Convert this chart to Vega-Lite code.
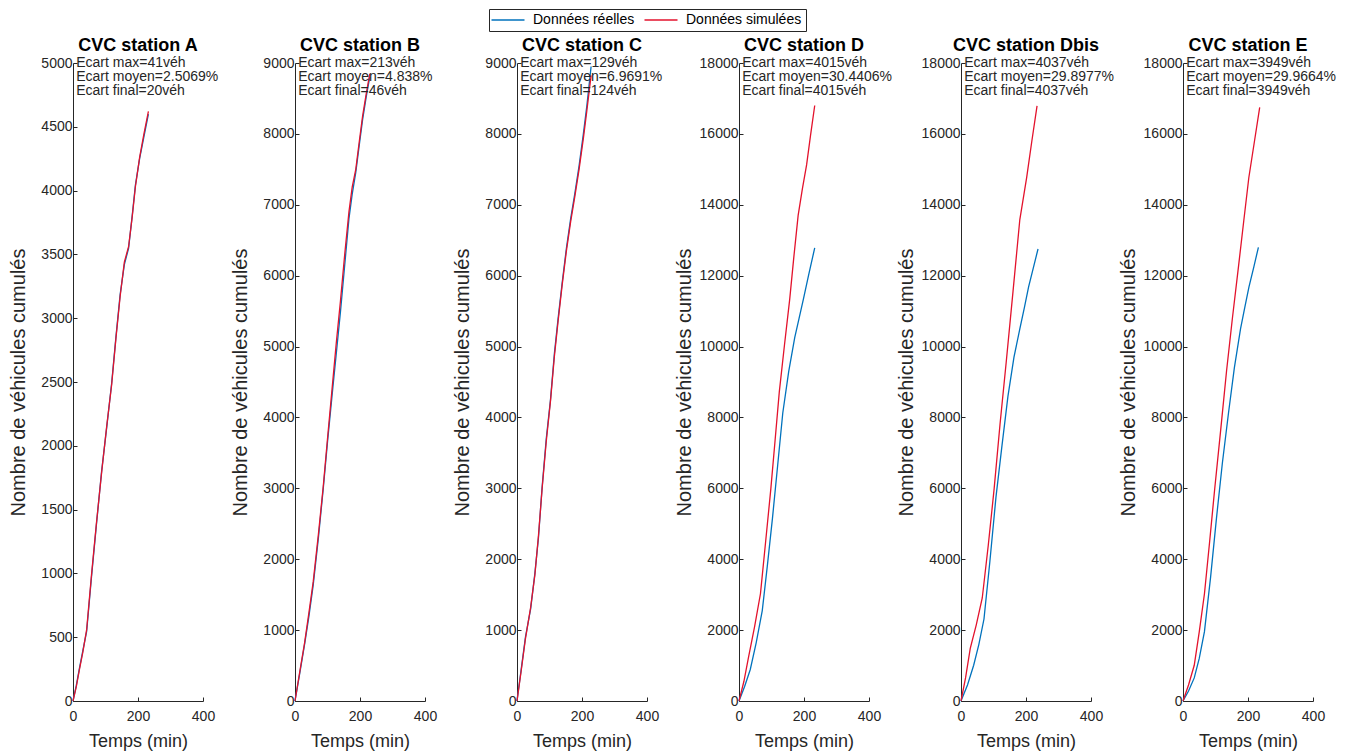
{
  "$schema": "https://vega.github.io/schema/vega-lite/v6.json",
  "padding": {"left": 8, "top": 8, "right": 5, "bottom": 5},
  "background": "white",
  "datasets": {
    "curves": [
      {"station": "A", "serie": "Données réelles", "t": 0, "n": 0},
      {"station": "A", "serie": "Données réelles", "t": 10, "n": 120},
      {"station": "A", "serie": "Données réelles", "t": 20, "n": 260},
      {"station": "A", "serie": "Données réelles", "t": 30, "n": 390},
      {"station": "A", "serie": "Données réelles", "t": 42, "n": 545},
      {"station": "A", "serie": "Données réelles", "t": 57, "n": 974},
      {"station": "A", "serie": "Données réelles", "t": 72, "n": 1380},
      {"station": "A", "serie": "Données réelles", "t": 88, "n": 1800},
      {"station": "A", "serie": "Données réelles", "t": 104, "n": 2150},
      {"station": "A", "serie": "Données réelles", "t": 119, "n": 2492},
      {"station": "A", "serie": "Données réelles", "t": 132, "n": 2850},
      {"station": "A", "serie": "Données réelles", "t": 145, "n": 3185},
      {"station": "A", "serie": "Données réelles", "t": 158, "n": 3420},
      {"station": "A", "serie": "Données réelles", "t": 171, "n": 3548},
      {"station": "A", "serie": "Données réelles", "t": 182, "n": 3800},
      {"station": "A", "serie": "Données réelles", "t": 192, "n": 4043},
      {"station": "A", "serie": "Données réelles", "t": 205, "n": 4250},
      {"station": "A", "serie": "Données réelles", "t": 218, "n": 4420},
      {"station": "A", "serie": "Données réelles", "t": 232, "n": 4600},
      {"station": "A", "serie": "Données simulées", "t": 0, "n": 0},
      {"station": "A", "serie": "Données simulées", "t": 10, "n": 110},
      {"station": "A", "serie": "Données simulées", "t": 20, "n": 250},
      {"station": "A", "serie": "Données simulées", "t": 30, "n": 380},
      {"station": "A", "serie": "Données simulées", "t": 42, "n": 560},
      {"station": "A", "serie": "Données simulées", "t": 57, "n": 990},
      {"station": "A", "serie": "Données simulées", "t": 72, "n": 1390},
      {"station": "A", "serie": "Données simulées", "t": 88, "n": 1790},
      {"station": "A", "serie": "Données simulées", "t": 104, "n": 2160},
      {"station": "A", "serie": "Données simulées", "t": 119, "n": 2480},
      {"station": "A", "serie": "Données simulées", "t": 132, "n": 2840},
      {"station": "A", "serie": "Données simulées", "t": 145, "n": 3170},
      {"station": "A", "serie": "Données simulées", "t": 158, "n": 3440},
      {"station": "A", "serie": "Données simulées", "t": 171, "n": 3560},
      {"station": "A", "serie": "Données simulées", "t": 182, "n": 3790},
      {"station": "A", "serie": "Données simulées", "t": 192, "n": 4030},
      {"station": "A", "serie": "Données simulées", "t": 205, "n": 4260},
      {"station": "A", "serie": "Données simulées", "t": 218, "n": 4440},
      {"station": "A", "serie": "Données simulées", "t": 232, "n": 4620},

      {"station": "B", "serie": "Données réelles", "t": 0, "n": 0},
      {"station": "B", "serie": "Données réelles", "t": 15, "n": 400},
      {"station": "B", "serie": "Données réelles", "t": 29.5, "n": 800},
      {"station": "B", "serie": "Données réelles", "t": 43, "n": 1200},
      {"station": "B", "serie": "Données réelles", "t": 56, "n": 1634},
      {"station": "B", "serie": "Données réelles", "t": 72, "n": 2300},
      {"station": "B", "serie": "Données réelles", "t": 87, "n": 3000},
      {"station": "B", "serie": "Données réelles", "t": 100, "n": 3650},
      {"station": "B", "serie": "Données réelles", "t": 114, "n": 4308},
      {"station": "B", "serie": "Données réelles", "t": 127, "n": 4900},
      {"station": "B", "serie": "Données réelles", "t": 140, "n": 5496},
      {"station": "B", "serie": "Données réelles", "t": 153, "n": 6150},
      {"station": "B", "serie": "Données réelles", "t": 166, "n": 6803},
      {"station": "B", "serie": "Données réelles", "t": 176, "n": 7150},
      {"station": "B", "serie": "Données réelles", "t": 187, "n": 7457},
      {"station": "B", "serie": "Données réelles", "t": 198, "n": 7850},
      {"station": "B", "serie": "Données réelles", "t": 208, "n": 8200},
      {"station": "B", "serie": "Données réelles", "t": 219, "n": 8520},
      {"station": "B", "serie": "Données réelles", "t": 230, "n": 8800},
      {"station": "B", "serie": "Données simulées", "t": 0, "n": 0},
      {"station": "B", "serie": "Données simulées", "t": 15, "n": 420},
      {"station": "B", "serie": "Données simulées", "t": 29.5, "n": 820},
      {"station": "B", "serie": "Données simulées", "t": 43, "n": 1250},
      {"station": "B", "serie": "Données simulées", "t": 56, "n": 1680},
      {"station": "B", "serie": "Données simulées", "t": 72, "n": 2350},
      {"station": "B", "serie": "Données simulées", "t": 87, "n": 3030},
      {"station": "B", "serie": "Données simulées", "t": 100, "n": 3700},
      {"station": "B", "serie": "Données simulées", "t": 114, "n": 4400},
      {"station": "B", "serie": "Données simulées", "t": 127, "n": 5050},
      {"station": "B", "serie": "Données simulées", "t": 140, "n": 5650},
      {"station": "B", "serie": "Données simulées", "t": 153, "n": 6300},
      {"station": "B", "serie": "Données simulées", "t": 166, "n": 6900},
      {"station": "B", "serie": "Données simulées", "t": 176, "n": 7250},
      {"station": "B", "serie": "Données simulées", "t": 187, "n": 7500},
      {"station": "B", "serie": "Données simulées", "t": 198, "n": 7900},
      {"station": "B", "serie": "Données simulées", "t": 208, "n": 8250},
      {"station": "B", "serie": "Données simulées", "t": 219, "n": 8560},
      {"station": "B", "serie": "Données simulées", "t": 230, "n": 8846},

      {"station": "C", "serie": "Données réelles", "t": 0, "n": 0},
      {"station": "C", "serie": "Données réelles", "t": 13, "n": 450},
      {"station": "C", "serie": "Données réelles", "t": 26, "n": 900},
      {"station": "C", "serie": "Données réelles", "t": 42, "n": 1300},
      {"station": "C", "serie": "Données réelles", "t": 55, "n": 1800},
      {"station": "C", "serie": "Données réelles", "t": 66, "n": 2300},
      {"station": "C", "serie": "Données réelles", "t": 77, "n": 3000},
      {"station": "C", "serie": "Données réelles", "t": 90, "n": 3700},
      {"station": "C", "serie": "Données réelles", "t": 103, "n": 4248},
      {"station": "C", "serie": "Données réelles", "t": 115, "n": 4900},
      {"station": "C", "serie": "Données réelles", "t": 126, "n": 5377},
      {"station": "C", "serie": "Données réelles", "t": 139, "n": 5900},
      {"station": "C", "serie": "Données réelles", "t": 152, "n": 6387},
      {"station": "C", "serie": "Données réelles", "t": 165, "n": 6800},
      {"station": "C", "serie": "Données réelles", "t": 178, "n": 7160},
      {"station": "C", "serie": "Données réelles", "t": 191, "n": 7550},
      {"station": "C", "serie": "Données réelles", "t": 204, "n": 7992},
      {"station": "C", "serie": "Données réelles", "t": 215, "n": 8400},
      {"station": "C", "serie": "Données réelles", "t": 228, "n": 8950},
      {"station": "C", "serie": "Données simulées", "t": 0, "n": 0},
      {"station": "C", "serie": "Données simulées", "t": 13, "n": 430},
      {"station": "C", "serie": "Données simulées", "t": 26, "n": 880},
      {"station": "C", "serie": "Données simulées", "t": 42, "n": 1320},
      {"station": "C", "serie": "Données simulées", "t": 55, "n": 1780},
      {"station": "C", "serie": "Données simulées", "t": 66, "n": 2330},
      {"station": "C", "serie": "Données simulées", "t": 77, "n": 2980},
      {"station": "C", "serie": "Données simulées", "t": 90, "n": 3660},
      {"station": "C", "serie": "Données simulées", "t": 103, "n": 4230},
      {"station": "C", "serie": "Données simulées", "t": 115, "n": 4860},
      {"station": "C", "serie": "Données simulées", "t": 126, "n": 5340},
      {"station": "C", "serie": "Données simulées", "t": 139, "n": 5870},
      {"station": "C", "serie": "Données simulées", "t": 152, "n": 6350},
      {"station": "C", "serie": "Données simulées", "t": 165, "n": 6760},
      {"station": "C", "serie": "Données simulées", "t": 178, "n": 7120},
      {"station": "C", "serie": "Données simulées", "t": 191, "n": 7500},
      {"station": "C", "serie": "Données simulées", "t": 204, "n": 7930},
      {"station": "C", "serie": "Données simulées", "t": 215, "n": 8330},
      {"station": "C", "serie": "Données simulées", "t": 228, "n": 8826},

      {"station": "D", "serie": "Données réelles", "t": 0, "n": 0},
      {"station": "D", "serie": "Données réelles", "t": 17, "n": 400},
      {"station": "D", "serie": "Données réelles", "t": 34.7, "n": 890},
      {"station": "D", "serie": "Données réelles", "t": 53, "n": 1650},
      {"station": "D", "serie": "Données réelles", "t": 71.6, "n": 2550},
      {"station": "D", "serie": "Données réelles", "t": 87, "n": 3800},
      {"station": "D", "serie": "Données réelles", "t": 103, "n": 5160},
      {"station": "D", "serie": "Données réelles", "t": 119, "n": 6650},
      {"station": "D", "serie": "Données réelles", "t": 134.7, "n": 8126},
      {"station": "D", "serie": "Données réelles", "t": 153, "n": 9300},
      {"station": "D", "serie": "Données réelles", "t": 171.6, "n": 10260},
      {"station": "D", "serie": "Données réelles", "t": 185, "n": 10800},
      {"station": "D", "serie": "Données réelles", "t": 198, "n": 11330},
      {"station": "D", "serie": "Données réelles", "t": 215, "n": 12050},
      {"station": "D", "serie": "Données réelles", "t": 233, "n": 12785},
      {"station": "D", "serie": "Données simulées", "t": 0, "n": 0},
      {"station": "D", "serie": "Données simulées", "t": 15, "n": 550},
      {"station": "D", "serie": "Données simulées", "t": 29.5, "n": 1245},
      {"station": "D", "serie": "Données simulées", "t": 48, "n": 2100},
      {"station": "D", "serie": "Données simulées", "t": 66, "n": 3025},
      {"station": "D", "serie": "Données simulées", "t": 82, "n": 4500},
      {"station": "D", "serie": "Données simulées", "t": 98, "n": 5990},
      {"station": "D", "serie": "Données simulées", "t": 111, "n": 7350},
      {"station": "D", "serie": "Données simulées", "t": 124, "n": 8720},
      {"station": "D", "serie": "Données simulées", "t": 140, "n": 10050},
      {"station": "D", "serie": "Données simulées", "t": 156, "n": 11330},
      {"station": "D", "serie": "Données simulées", "t": 169, "n": 12550},
      {"station": "D", "serie": "Données simulées", "t": 182, "n": 13700},
      {"station": "D", "serie": "Données simulées", "t": 195, "n": 14450},
      {"station": "D", "serie": "Données simulées", "t": 208, "n": 15125},
      {"station": "D", "serie": "Données simulées", "t": 220, "n": 15950},
      {"station": "D", "serie": "Données simulées", "t": 233, "n": 16800},

      {"station": "Dbis", "serie": "Données réelles", "t": 0, "n": 0},
      {"station": "Dbis", "serie": "Données réelles", "t": 20, "n": 450},
      {"station": "Dbis", "serie": "Données réelles", "t": 39, "n": 1008},
      {"station": "Dbis", "serie": "Données réelles", "t": 55, "n": 1600},
      {"station": "Dbis", "serie": "Données réelles", "t": 70.7, "n": 2313},
      {"station": "Dbis", "serie": "Données réelles", "t": 89, "n": 3950},
      {"station": "Dbis", "serie": "Données réelles", "t": 107.6, "n": 5753},
      {"station": "Dbis", "serie": "Données réelles", "t": 126, "n": 7200},
      {"station": "Dbis", "serie": "Données réelles", "t": 144.5, "n": 8600},
      {"station": "Dbis", "serie": "Données réelles", "t": 163, "n": 9700},
      {"station": "Dbis", "serie": "Données réelles", "t": 181, "n": 10498},
      {"station": "Dbis", "serie": "Données réelles", "t": 195, "n": 11100},
      {"station": "Dbis", "serie": "Données réelles", "t": 208, "n": 11685},
      {"station": "Dbis", "serie": "Données réelles", "t": 222, "n": 12200},
      {"station": "Dbis", "serie": "Données réelles", "t": 237, "n": 12753},
      {"station": "Dbis", "serie": "Données simulées", "t": 0, "n": 0},
      {"station": "Dbis", "serie": "Données simulées", "t": 14, "n": 650},
      {"station": "Dbis", "serie": "Données simulées", "t": 28.5, "n": 1483},
      {"station": "Dbis", "serie": "Données simulées", "t": 47, "n": 2150},
      {"station": "Dbis", "serie": "Données simulées", "t": 65.4, "n": 2906},
      {"station": "Dbis", "serie": "Données simulées", "t": 84, "n": 4400},
      {"station": "Dbis", "serie": "Données simulées", "t": 102, "n": 5990},
      {"station": "Dbis", "serie": "Données simulées", "t": 120, "n": 7800},
      {"station": "Dbis", "serie": "Données simulées", "t": 139, "n": 9549},
      {"station": "Dbis", "serie": "Données simulées", "t": 160, "n": 11550},
      {"station": "Dbis", "serie": "Données simulées", "t": 181, "n": 13583},
      {"station": "Dbis", "serie": "Données simulées", "t": 202, "n": 14769},
      {"station": "Dbis", "serie": "Données simulées", "t": 218, "n": 15800},
      {"station": "Dbis", "serie": "Données simulées", "t": 234, "n": 16790},

      {"station": "E", "serie": "Données réelles", "t": 0, "n": 0},
      {"station": "E", "serie": "Données réelles", "t": 17, "n": 280},
      {"station": "E", "serie": "Données réelles", "t": 34.6, "n": 652},
      {"station": "E", "serie": "Données réelles", "t": 50, "n": 1200},
      {"station": "E", "serie": "Données réelles", "t": 66, "n": 1957},
      {"station": "E", "serie": "Données réelles", "t": 85, "n": 3500},
      {"station": "E", "serie": "Données réelles", "t": 103, "n": 5160},
      {"station": "E", "serie": "Données réelles", "t": 121, "n": 6700},
      {"station": "E", "serie": "Données réelles", "t": 140, "n": 8126},
      {"station": "E", "serie": "Données réelles", "t": 158, "n": 9400},
      {"station": "E", "serie": "Données réelles", "t": 177, "n": 10498},
      {"station": "E", "serie": "Données réelles", "t": 190, "n": 11100},
      {"station": "E", "serie": "Données réelles", "t": 203, "n": 11685},
      {"station": "E", "serie": "Données réelles", "t": 218, "n": 12250},
      {"station": "E", "serie": "Données réelles", "t": 232, "n": 12801},
      {"station": "E", "serie": "Données simulées", "t": 0, "n": 0},
      {"station": "E", "serie": "Données simulées", "t": 17, "n": 450},
      {"station": "E", "serie": "Données simulées", "t": 34.6, "n": 1008},
      {"station": "E", "serie": "Données simulées", "t": 50, "n": 1950},
      {"station": "E", "serie": "Données simulées", "t": 66, "n": 3025},
      {"station": "E", "serie": "Données simulées", "t": 82, "n": 4500},
      {"station": "E", "serie": "Données simulées", "t": 97.6, "n": 5990},
      {"station": "E", "serie": "Données simulées", "t": 116, "n": 7650},
      {"station": "E", "serie": "Données simulées", "t": 134, "n": 9312},
      {"station": "E", "serie": "Données simulées", "t": 152, "n": 10800},
      {"station": "E", "serie": "Données simulées", "t": 171, "n": 12278},
      {"station": "E", "serie": "Données simulées", "t": 187, "n": 13550},
      {"station": "E", "serie": "Données simulées", "t": 202.6, "n": 14769},
      {"station": "E", "serie": "Données simulées", "t": 220, "n": 15800},
      {"station": "E", "serie": "Données simulées", "t": 236, "n": 16750}
    ],
    "notes": [
      {"station": "A", "t": 10, "n": 5000, "label": "Ecart max=41véh\nEcart moyen=2.5069%\nEcart final=20véh"},
      {"station": "B", "t": 10, "n": 9000, "label": "Ecart max=213véh\nEcart moyen=4.838%\nEcart final=46véh"},
      {"station": "C", "t": 10, "n": 9000, "label": "Ecart max=129véh\nEcart moyen=6.9691%\nEcart final=124véh"},
      {"station": "D", "t": 10, "n": 18000, "label": "Ecart max=4015véh\nEcart moyen=30.4406%\nEcart final=4015véh"},
      {"station": "Dbis", "t": 10, "n": 18000, "label": "Ecart max=4037véh\nEcart moyen=29.8977%\nEcart final=4037véh"},
      {"station": "E", "t": 10, "n": 18000, "label": "Ecart max=3949véh\nEcart moyen=29.9664%\nEcart final=3949véh"}
    ]
  },
  "hconcat": [
    {
      "width": 130, "height": 638,
      "title": "CVC station A",
      "layer": [
        {"data": {"name": "curves"}, "transform": [{"filter": "datum.station === 'A'"}],
         "mark": {"type": "line", "strokeWidth": 1.3},
         "encoding": {
           "x": {"field": "t", "type": "quantitative", "scale": {"domain": [0, 400], "nice": false}, "axis": {"values": [0, 200, 400], "title": "Temps (min)"}},
           "y": {"field": "n", "type": "quantitative", "scale": {"domain": [0, 5000], "nice": false}, "axis": {"values": [0, 500, 1000, 1500, 2000, 2500, 3000, 3500, 4000, 4500, 5000], "title": "Nombre de véhicules cumulés"}},
           "color": {"field": "serie", "type": "nominal", "scale": {"domain": ["Données réelles", "Données simulées"], "range": ["#0072BD", "#E3122C"]}, "legend": {"title": null}}
         }},
        {"data": {"name": "notes"}, "transform": [{"filter": "datum.station === 'A'"}],
         "mark": {"type": "text", "align": "left", "baseline": "middle", "lineBreak": "\n", "lineHeight": 14, "fontSize": 14, "font": "Liberation Sans", "color": "#262626"},
         "encoding": {"x": {"field": "t", "type": "quantitative"}, "y": {"field": "n", "type": "quantitative"}, "text": {"field": "label"}}}
      ]
    },
    {
      "width": 130, "height": 638,
      "title": "CVC station B",
      "layer": [
        {"data": {"name": "curves"}, "transform": [{"filter": "datum.station === 'B'"}],
         "mark": {"type": "line", "strokeWidth": 1.3},
         "encoding": {
           "x": {"field": "t", "type": "quantitative", "scale": {"domain": [0, 400], "nice": false}, "axis": {"values": [0, 200, 400], "title": "Temps (min)"}},
           "y": {"field": "n", "type": "quantitative", "scale": {"domain": [0, 9000], "nice": false}, "axis": {"values": [0, 1000, 2000, 3000, 4000, 5000, 6000, 7000, 8000, 9000], "title": "Nombre de véhicules cumulés"}},
           "color": {"field": "serie", "type": "nominal", "scale": {"domain": ["Données réelles", "Données simulées"], "range": ["#0072BD", "#E3122C"]}, "legend": {"title": null}}
         }},
        {"data": {"name": "notes"}, "transform": [{"filter": "datum.station === 'B'"}],
         "mark": {"type": "text", "align": "left", "baseline": "middle", "lineBreak": "\n", "lineHeight": 14, "fontSize": 14, "font": "Liberation Sans", "color": "#262626"},
         "encoding": {"x": {"field": "t", "type": "quantitative"}, "y": {"field": "n", "type": "quantitative"}, "text": {"field": "label"}}}
      ]
    },
    {
      "width": 130, "height": 638,
      "title": "CVC station C",
      "layer": [
        {"data": {"name": "curves"}, "transform": [{"filter": "datum.station === 'C'"}],
         "mark": {"type": "line", "strokeWidth": 1.3},
         "encoding": {
           "x": {"field": "t", "type": "quantitative", "scale": {"domain": [0, 400], "nice": false}, "axis": {"values": [0, 200, 400], "title": "Temps (min)"}},
           "y": {"field": "n", "type": "quantitative", "scale": {"domain": [0, 9000], "nice": false}, "axis": {"values": [0, 1000, 2000, 3000, 4000, 5000, 6000, 7000, 8000, 9000], "title": "Nombre de véhicules cumulés"}},
           "color": {"field": "serie", "type": "nominal", "scale": {"domain": ["Données réelles", "Données simulées"], "range": ["#0072BD", "#E3122C"]}, "legend": {"title": null}}
         }},
        {"data": {"name": "notes"}, "transform": [{"filter": "datum.station === 'C'"}],
         "mark": {"type": "text", "align": "left", "baseline": "middle", "lineBreak": "\n", "lineHeight": 14, "fontSize": 14, "font": "Liberation Sans", "color": "#262626"},
         "encoding": {"x": {"field": "t", "type": "quantitative"}, "y": {"field": "n", "type": "quantitative"}, "text": {"field": "label"}}}
      ]
    },
    {
      "width": 130, "height": 638,
      "title": "CVC station D",
      "layer": [
        {"data": {"name": "curves"}, "transform": [{"filter": "datum.station === 'D'"}],
         "mark": {"type": "line", "strokeWidth": 1.3},
         "encoding": {
           "x": {"field": "t", "type": "quantitative", "scale": {"domain": [0, 400], "nice": false}, "axis": {"values": [0, 200, 400], "title": "Temps (min)"}},
           "y": {"field": "n", "type": "quantitative", "scale": {"domain": [0, 18000], "nice": false}, "axis": {"values": [0, 2000, 4000, 6000, 8000, 10000, 12000, 14000, 16000, 18000], "title": "Nombre de véhicules cumulés"}},
           "color": {"field": "serie", "type": "nominal", "scale": {"domain": ["Données réelles", "Données simulées"], "range": ["#0072BD", "#E3122C"]}, "legend": {"title": null}}
         }},
        {"data": {"name": "notes"}, "transform": [{"filter": "datum.station === 'D'"}],
         "mark": {"type": "text", "align": "left", "baseline": "middle", "lineBreak": "\n", "lineHeight": 14, "fontSize": 14, "font": "Liberation Sans", "color": "#262626"},
         "encoding": {"x": {"field": "t", "type": "quantitative"}, "y": {"field": "n", "type": "quantitative"}, "text": {"field": "label"}}}
      ]
    },
    {
      "width": 130, "height": 638,
      "title": "CVC station Dbis",
      "layer": [
        {"data": {"name": "curves"}, "transform": [{"filter": "datum.station === 'Dbis'"}],
         "mark": {"type": "line", "strokeWidth": 1.3},
         "encoding": {
           "x": {"field": "t", "type": "quantitative", "scale": {"domain": [0, 400], "nice": false}, "axis": {"values": [0, 200, 400], "title": "Temps (min)"}},
           "y": {"field": "n", "type": "quantitative", "scale": {"domain": [0, 18000], "nice": false}, "axis": {"values": [0, 2000, 4000, 6000, 8000, 10000, 12000, 14000, 16000, 18000], "title": "Nombre de véhicules cumulés"}},
           "color": {"field": "serie", "type": "nominal", "scale": {"domain": ["Données réelles", "Données simulées"], "range": ["#0072BD", "#E3122C"]}, "legend": {"title": null}}
         }},
        {"data": {"name": "notes"}, "transform": [{"filter": "datum.station === 'Dbis'"}],
         "mark": {"type": "text", "align": "left", "baseline": "middle", "lineBreak": "\n", "lineHeight": 14, "fontSize": 14, "font": "Liberation Sans", "color": "#262626"},
         "encoding": {"x": {"field": "t", "type": "quantitative"}, "y": {"field": "n", "type": "quantitative"}, "text": {"field": "label"}}}
      ]
    },
    {
      "width": 130, "height": 638,
      "title": "CVC station E",
      "layer": [
        {"data": {"name": "curves"}, "transform": [{"filter": "datum.station === 'E'"}],
         "mark": {"type": "line", "strokeWidth": 1.3},
         "encoding": {
           "x": {"field": "t", "type": "quantitative", "scale": {"domain": [0, 400], "nice": false}, "axis": {"values": [0, 200, 400], "title": "Temps (min)"}},
           "y": {"field": "n", "type": "quantitative", "scale": {"domain": [0, 18000], "nice": false}, "axis": {"values": [0, 2000, 4000, 6000, 8000, 10000, 12000, 14000, 16000, 18000], "title": "Nombre de véhicules cumulés"}},
           "color": {"field": "serie", "type": "nominal", "scale": {"domain": ["Données réelles", "Données simulées"], "range": ["#0072BD", "#E3122C"]}, "legend": {"title": null}}
         }},
        {"data": {"name": "notes"}, "transform": [{"filter": "datum.station === 'E'"}],
         "mark": {"type": "text", "align": "left", "baseline": "middle", "lineBreak": "\n", "lineHeight": 14, "fontSize": 14, "font": "Liberation Sans", "color": "#262626"},
         "encoding": {"x": {"field": "t", "type": "quantitative"}, "y": {"field": "n", "type": "quantitative"}, "text": {"field": "label"}}}
      ]
    }
  ],
  "spacing": 92,
  "bounds": "flush",
  "config": {
    "font": "Liberation Sans",
    "view": {"stroke": null},
    "axis": {
      "grid": false,
      "domainColor": "#262626",
      "tickColor": "#262626",
      "labelColor": "#262626",
      "titleColor": "#262626",
      "labelFont": "Liberation Sans",
      "titleFont": "Liberation Sans",
      "labelFontSize": 14,
      "titleFontWeight": "normal",
      "tickSize": -4,
      "labelFlush": false,
      "labelOverlap": false,
      "format": "d"
    },
    "axisY": {"minExtent": 40, "maxExtent": 40, "titlePadding": 5, "labelPadding": 5, "titleFontSize": 20},
    "axisX": {"labelPadding": 12, "titlePadding": 9, "titleFontSize": 18},
    "title": {"font": "Liberation Sans", "fontSize": 18, "fontWeight": "bold", "color": "#000000", "anchor": "middle", "frame": "group", "offset": 1},
    "legend": {
      "orient": "none",
      "legendX": 416,
      "legendY": -54,
      "direction": "horizontal",
      "symbolType": "M-3,0H3",
      "symbolSize": 121,
      "symbolOffset": 8,
      "symbolStrokeWidth": 1.3,
      "labelFont": "Liberation Sans",
      "labelFontSize": 14,
      "labelColor": "#000000",
      "labelOffset": 18,
      "columnPadding": 6,
      "strokeColor": "#262626",
      "fillColor": "#ffffff",
      "padding": 4
    }
  }
}
